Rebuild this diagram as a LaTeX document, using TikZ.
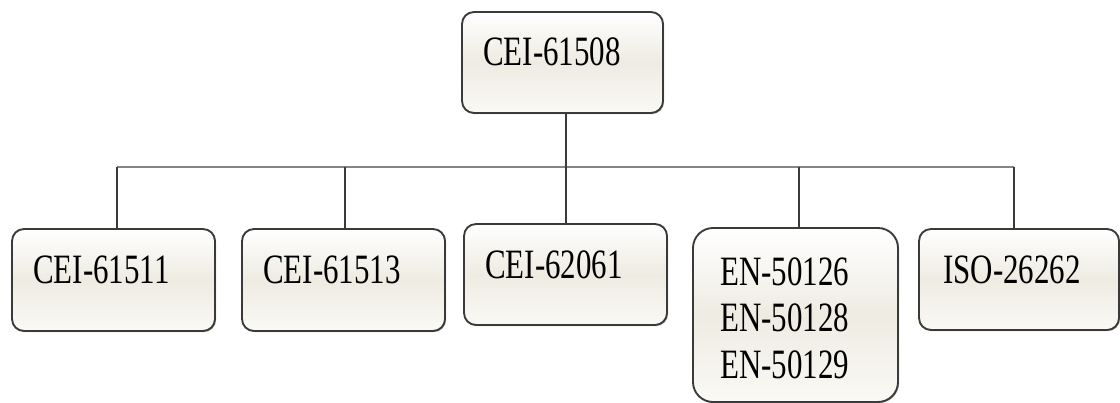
\documentclass[tikz,border=0pt]{standalone}
\usepackage{fontspec}
\setmainfont{Liberation Serif}
\usetikzlibrary{calc,shadows}
\definecolor{boxedge}{HTML}{3A3A3A}
\definecolor{boxmid}{HTML}{EEEBE2}
\definecolor{boxlow}{HTML}{FAF9F5}
\definecolor{busgray}{HTML}{858585}
% standard label: Times-like serif, stretched vertically
\newcommand\stdlabel[1]{\scalebox{1}[1.35]{\fontsize{23.2pt}{26.1pt}\selectfont\begin{tabular}[t]{@{}l@{}}#1\end{tabular}}}
\begin{document}
\begin{tikzpicture}[x=0.75pt,y=-0.75pt,
  stdbox/.style={draw=boxedge, line width=1.4pt, rounded corners=9pt,
    top color=white, bottom color=boxlow, middle color=boxmid,
    drop shadow={shadow xshift=0.8pt, shadow yshift=-0.8pt, opacity=0.3, fill=black},
    inner sep=0pt, outer sep=0pt},
  stdtext/.style={anchor=base west, inner sep=0pt, text=black},
  bus/.style={draw=busgray, line width=2pt},
  link/.style={draw=boxedge, line width=1.1pt}]
\useasboundingbox (0,0) rectangle (1120,403);

% standard boxes
\node[stdbox, minimum width=201*0.75pt, minimum height=101*0.75pt] (root) at (562.5,62.5) {};
\node[stdbox, minimum width=203*0.75pt, minimum height=102*0.75pt] (b1) at (113.5,280) {};
\node[stdbox, minimum width=203*0.75pt, minimum height=102*0.75pt] (b2) at (343.5,280) {};
\node[stdbox, minimum width=203*0.75pt, minimum height=101*0.75pt] (b3) at (565.5,274.5) {};
\node[stdbox, rounded corners=15pt, minimum width=205*0.75pt, minimum height=174*0.75pt] (b4) at (795.5,315) {};
\node[stdbox, minimum width=200*0.75pt, minimum height=101*0.75pt] (b5) at (1019,279.5) {};

% labels
\node[stdtext] (troot) at ($(root.north west)+(21,53)$) {\stdlabel{CEI-61508}};
\node[stdtext] (t1) at ($(b1.north west)+(21,54)$) {\stdlabel{CEI-61511}};
\node[stdtext] (t2) at ($(b2.north west)+(21,54)$) {\stdlabel{CEI-61513}};
\node[stdtext] (t3) at ($(b3.north west)+(21,54)$) {\stdlabel{CEI-62061}};
\node[stdtext] (t4) at ($(b4.north west)+(27,57)$) {\stdlabel{EN-50126\\EN-50128\\EN-50129}};
\node[stdtext] (t5) at ($(b5.north west)+(24,54)$) {\stdlabel{ISO-26262}};

% bus junctions
\coordinate (j1) at (117,167);
\coordinate (j2) at (345,167);
\coordinate (j3) at (566,167);
\coordinate (j4) at (799,167);
\coordinate (j5) at (1014,167);

\draw[bus] (j1) -- (j5);
\draw[link] (j3 |- root.south) -- (j3 |- b3.north);
\draw[link] (j1) -- (j1 |- b1.north);
\draw[link] (j2) -- (j2 |- b2.north);
\draw[link] (j4) -- (j4 |- b4.north);
\draw[link] (j5) -- (j5 |- b5.north);
\end{tikzpicture}
\end{document}
